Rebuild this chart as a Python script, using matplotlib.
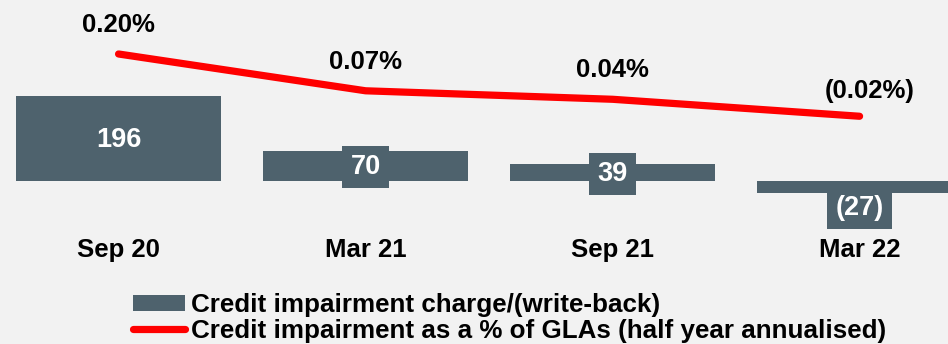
import matplotlib
matplotlib.use('Agg')
import matplotlib.pyplot as plt
from matplotlib.patches import Patch
from matplotlib.lines import Line2D

periods = ["Sep 20", "Mar 21", "Sep 21", "Mar 22"]
charge = [196, 70, 39, -27]
charge_labels = ["196", "70", "39", "(27)"]
ratio = [0.20, 0.07, 0.04, -0.02]
ratio_labels = ["0.20%", "0.07%", "0.04%", "(0.02%)"]

bar_color = '#4e626d'
line_color = '#ff0000'
bg = '#f2f2f2'

plt.rcParams['font.family'] = ['Liberation Sans', 'DejaVu Sans']
plt.rcParams['font.weight'] = 'bold'

fig = plt.figure(figsize=(9.48, 3.44), dpi=100, facecolor=bg)
# axes from the top edge down to 230 px
ax = fig.add_axes([0, 114 / 344, 1, 230 / 344])
ax.set_facecolor(bg)
x = list(range(len(periods)))

ax.bar(x, charge, width=0.83, color=bar_color, zorder=2)
ax.set_xlim(-0.48, 3.358)
ax.set_ylim(-112.9, 417)
for s in ax.spines.values():
    s.set_visible(False)
ax.set_yticks([])
ax.set_xticks(x)
ax.set_xticklabels(periods, fontsize=18.5, fontweight='bold')
ax.tick_params(axis='x', length=0, pad=6)

box = dict(boxstyle='square,pad=0.3', fc=bar_color, ec='none')
for xi, v, lab in zip(x, charge, charge_labels):
    if v >= 0:
        ax.annotate(lab, (xi, v / 2), xytext=(0, -1), textcoords='offset points',
                    ha='center', va='center', color='white',
                    fontsize=19.5, fontweight='bold', bbox=box, zorder=3)
    else:
        ax.annotate(lab, (xi, v), xytext=(0, -11), textcoords='offset points',
                    ha='center', va='center', color='white', fontsize=19.5,
                    fontweight='bold', bbox=box, zorder=3)

ax2 = ax.twinx()
ax2.set_ylim(-0.4219, 0.3908)
ax2.axis('off')
ax2.plot(x, ratio, color=line_color, lw=5.2, solid_capstyle='round',
         solid_joinstyle='round', zorder=4)
for xi, v, lab in zip(x, ratio, ratio_labels):
    dx = 7 if v < 0 else 0
    ax2.annotate(lab, (xi, v), xytext=(dx, 21 if v >= 0 else 18),
                 textcoords='offset points', ha='center', va='center',
                 fontsize=18.5, fontweight='bold', color='black')

handles = [Patch(fc=bar_color, ec='none'),
           Line2D([], [], color=line_color, lw=5.2, solid_capstyle='round')]
labels = ["Credit impairment charge/(write-back)",
          "Credit impairment as a % of GLAs (half year annualised)"]
leg = fig.legend(handles, labels, loc='upper left', bbox_to_anchor=(120 / 948, 1 - 280 / 344),
                 frameon=False, handlelength=2.0, handleheight=0.55,
                 handletextpad=0.22, labelspacing=0.07, borderpad=0,
                 prop={'weight': 'bold', 'size': 18.7})

fig.savefig('out.png', dpi=100, facecolor=bg)
